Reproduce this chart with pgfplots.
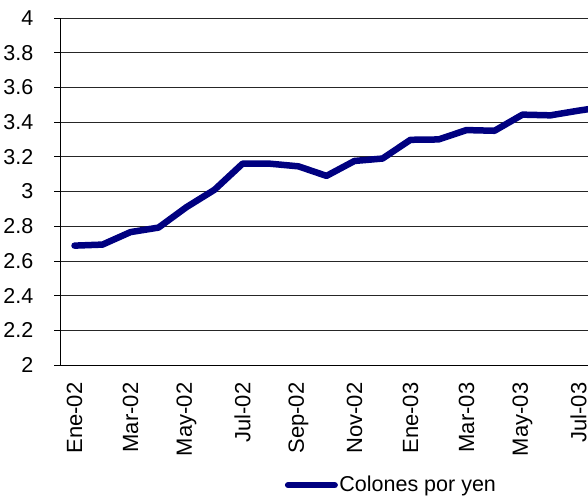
\documentclass[border=0pt]{standalone}
\usepackage{pgfplots}
\pgfplotsset{compat=1.18}
\usepackage{fontspec}
\setmainfont{Liberation Sans}
\definecolor{navyline}{HTML}{000080}
\begin{document}
\fontsize{21.5}{24}\selectfont
\begin{tikzpicture}
\begin{axis}[
  name=ax,
  scale only axis,
  width=527.5pt, height=347pt,
  xmin=-0.5, xmax=18.34,
  ymin=2, ymax=4,
  ytick={2,2.2,...,4.01},
  yticklabels={2,2.2,2.4,2.6,2.8,3,3.2,3.4,3.6,3.8,4},
  xtick={0,2,...,18},
  xticklabels={Ene-02,Mar-02,May-02,Jul-02,Sep-02,Nov-02,Ene-03,Mar-03,May-03,Jul-03},
  minor xtick={-0.5,1.5,...,17.6},
  axis x line*=bottom,
  axis y line*=left,
  axis line style={line width=0.75pt, black, -},
  ymajorgrids,
  major grid style={line width=0.75pt, black!85},
  tick align=outside,
  xtick style={draw=none},
  minor x tick style={line width=0.75pt, black},
  minor tick length=6pt,
  ytick style={line width=0.75pt, black},
  major tick length=6pt,
  xticklabel style={rotate=90, anchor=east, inner sep=0pt, xshift=1.5pt, font=\fontsize{22}{24}\selectfont},
  xticklabel shift=13pt,
  yticklabel style={anchor=east, inner sep=0pt},
  yticklabel shift=21pt,
  /pgf/number format/assume math mode=true,
  clip=true,
  legend style={draw=none, fill=none, inner sep=0pt, at={(axis description cs:0.425,-0.346)}, anchor=west, font=\fontsize{21.5}{24}\selectfont, nodes={inner xsep=1.5pt}},
  legend image code/.code={\draw[#1, line width=6.5pt, line cap=round] (0pt,0pt) -- (46.5pt,0pt);},
  legend cell align=left,
]
\addplot[navyline, line width=6.5pt, line join=round, line cap=round] coordinates {
(0,2.688) (1,2.694) (2,2.766) (3,2.792) (4,2.91) (5,3.01) (6,3.16) (7,3.16)
(8,3.145) (9,3.09) (10,3.176) (11,3.19) (12,3.298) (13,3.30) (14,3.354)
(15,3.35) (16,3.443) (17,3.439) (18,3.466) (19,3.49)
};
\addlegendentry{Colones por yen}
\end{axis}
\pgfresetboundingbox
\path ([shift={(-60.5pt,-130pt)}]ax.south west) rectangle ([shift={(0pt,18pt)}]ax.north east);
\end{tikzpicture}
\end{document}
